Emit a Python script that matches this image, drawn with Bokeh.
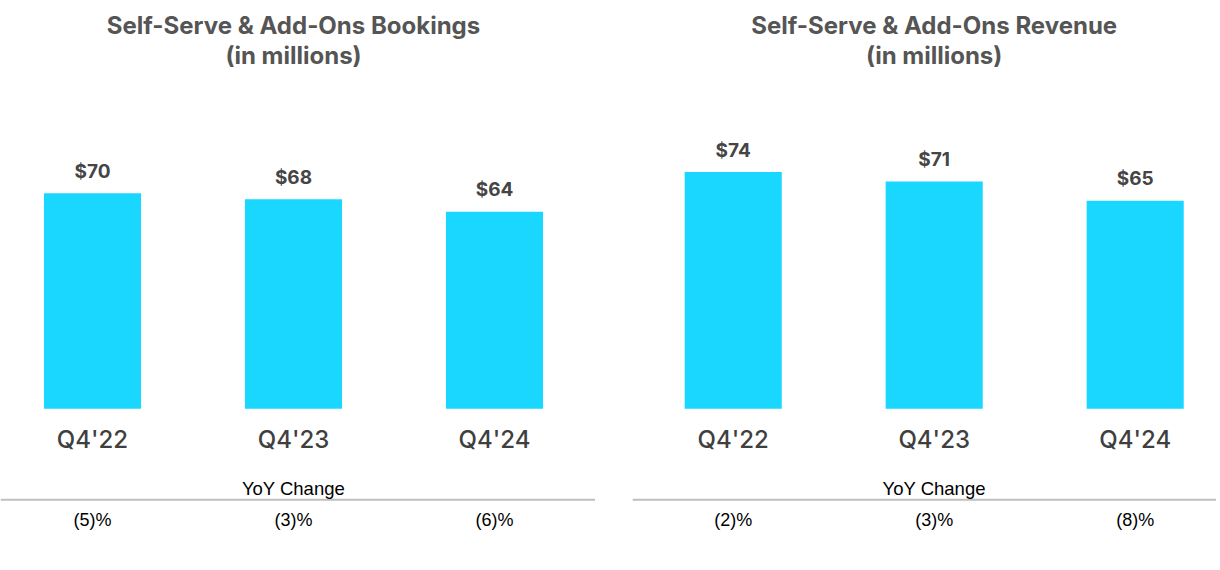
from bokeh.plotting import figure
from bokeh.models import ColumnDataSource, Range1d, Label
from bokeh.layouts import row
from bokeh.core.properties import value
from bokeh.embed import file_html
from bokeh.resources import INLINE

# ---- data ----
quarters = ["Q4'22", "Q4'23", "Q4'24"]
bookings = [70, 68, 64]
revenue = [74, 71, 65]
bookings_yoy = ["(5)%", "(3)%", "(6)%"]
revenue_yoy = ["(2)%", "(3)%", "(8)%"]
titles = [["Self-Serve & Add-Ons Bookings", "(in millions)"],
          ["Self-Serve & Add-Ons Revenue", "(in millions)"]]
yoy_header = "YoY Change"

BAR = "#19D7FF"
TITLE_C = "#555555"
LABEL_C = "#454545"

H = 562
TOP = 0  # page y of figure top


def panel(vals, yoy, title, width, xstart, scale, line_x):
    zero = 408.3
    y_of = lambda py: (zero - py) / scale
    xend = xstart + width / 201.0
    p = figure(width=width, height=H, output_backend="svg", toolbar_location=None,
               x_range=Range1d(xstart, xend),
               y_range=Range1d(y_of(TOP + H), y_of(TOP)),
               min_border=0, min_border_left=0, min_border_right=0,
               min_border_top=0, min_border_bottom=0)
    p.axis.visible = False
    p.grid.visible = False
    p.outline_line_color = None
    p.background_fill_color = "white"
    p.border_fill_color = "white"

    xs = list(range(len(quarters)))
    src = ColumnDataSource(dict(
        x=xs, q=quarters, v=vals,
        lab=["$%d" % v for v in vals],
        lab_y=[v + 22.0 / scale for v in vals],
        yoy=yoy,
    ))
    p.vbar(x="x", top="v", bottom=0, width=0.483, source=src,
           fill_color=BAR, line_color=None)

    # value labels
    p.text(x="x", y="lab_y", text="lab", source=src,
           text_font=value("Inter"), text_font_style="bold",
           text_font_size="19px", text_color=LABEL_C,
           text_align="center", text_baseline="alphabetic")
    # category labels
    p.text(x="x", y=y_of(438.5), text="q", source=src,
           text_font=value("Inter Medium"), text_font_size="24px",
           text_color="#3f3f3f", text_align="center", text_baseline="alphabetic")
    # yoy values
    p.text(x="x", y=y_of(519.5), text="yoy", source=src,
           text_font=value("Liberation Sans"), text_font_size="18px",
           text_color="#000000", text_align="center", text_baseline="alphabetic")

    # YoY header
    p.add_layout(Label(x=1, y=y_of(488), text=yoy_header,
                       text_font="Liberation Sans", text_font_size="18.5px",
                       text_color="#000000", text_align="center",
                       text_baseline="alphabetic"))
    # separator line
    p.segment(x0=[line_x[0]], y0=[y_of(499.3)], x1=[line_x[1]], y1=[y_of(499.3)],
              line_color="#BFBFBF", line_width=2)

    # title
    for t, py in zip(title, [24.5, 54.5]):
        p.add_layout(Label(x=1, y=y_of(py), text=t,
                           text_font="Inter", text_font_style="bold",
                           text_font_size="24px", text_color=TITLE_C,
                           text_align="center", text_baseline="alphabetic"))
    return p


left_start = -92.0 / 201.0
right_start = -120.7 / 201.0
p1 = panel(bookings, bookings_yoy, titles[0], 612, left_start, 3.08,
           (left_start, 2.5))
p2 = panel(revenue, revenue_yoy, titles[1], 604, right_start, 3.2,
           (-0.5, right_start + 604 / 201.0))

layout = row(p1, p2, spacing=0)
open("out.html", "w").write(file_html(layout, INLINE))
